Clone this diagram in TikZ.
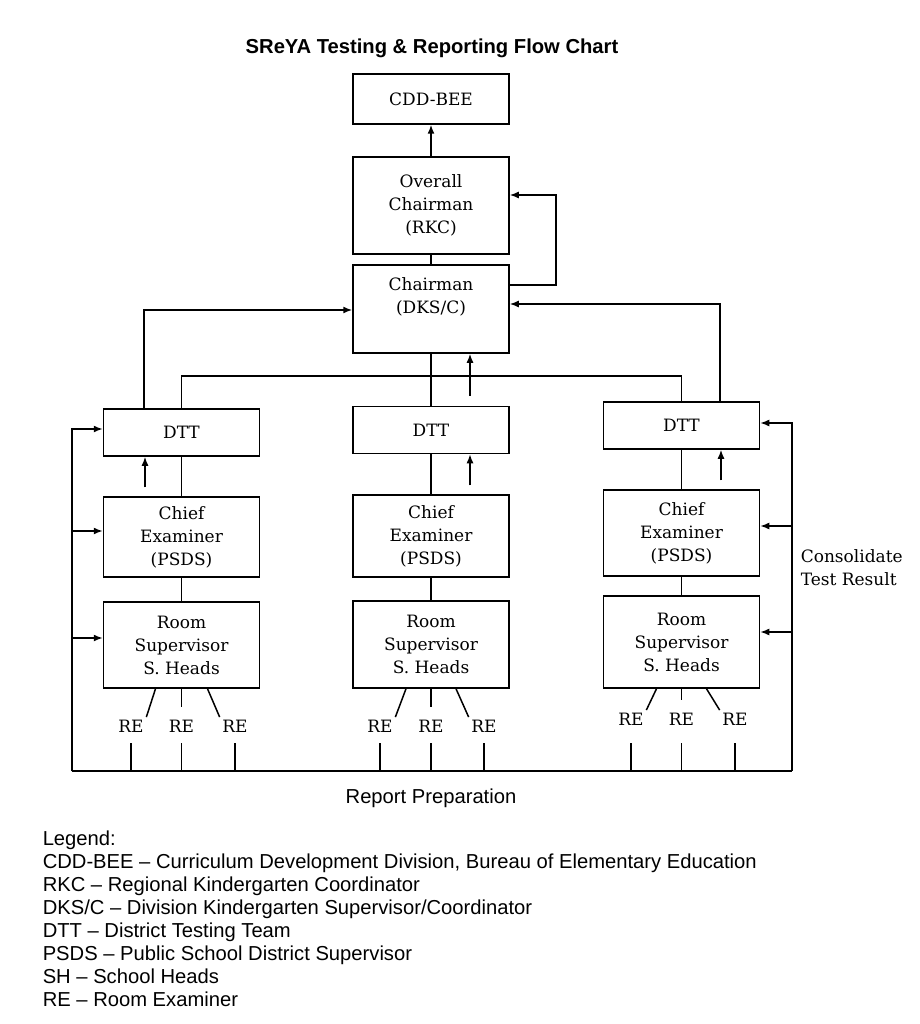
\documentclass[tikz,border=0pt]{standalone}
\usepackage{fontspec}
\newfontfamily\headfont{Liberation Sans}
\newfontfamily\chartfont{DejaVu Serif}
\usetikzlibrary{arrows.meta}

\newcommand{\boxfont}{\chartfont\fontsize{17}{23}\selectfont}
\newcommand{\sansfont}{\headfont\fontsize{20.2}{23}\selectfont}

\tikzset{
  box/.style={draw, minimum width=156pt, align=center, inner sep=0pt, font=\boxfont},
  arr/.style={-{Latex[length=9pt,width=7pt]}},
  re/.style={inner sep=2pt, font=\boxfont},
}

\begin{document}
\begin{tikzpicture}[x=1pt, y=-1pt, line width=1.5pt]
  \useasboundingbox (0,0) rectangle (919,1024);

  \node[font=\headfont\bfseries\fontsize{20.2}{24}\selectfont] (title) at (432,48) {SReYA Testing \& Reporting Flow Chart};

  % top of the chart
  \node[box, minimum height=50pt] (cdd) at (431,99) {CDD-BEE};
  \node[box, minimum height=97pt] (rkc) at (431,205.5) {Overall\\Chairman\\(RKC)};
  \node[box, minimum height=88pt] (dks) at (431,309) {};
  \node[font=\boxfont, align=center] (dkstext) at (431,297) {Chairman\\(DKS/C)};

  % three columns
  \node[box, minimum height=47pt] (dtta) at (181.5,432.5) {DTT};
  \node[box, minimum height=47pt] (dttb) at (431,430) {DTT};
  \node[box, minimum height=47pt] (dttc) at (681.5,425.5) {DTT};

  \node[box, minimum height=80pt] (chiefa) at (181.5,537) {Chief\\Examiner\\(PSDS)};
  \node[box, minimum height=82pt] (chiefb) at (431,536) {Chief\\Examiner\\(PSDS)};
  \node[box, minimum height=86pt] (chiefc) at (681.5,533) {Chief\\Examiner\\(PSDS)};

  \node[box, minimum height=86pt] (rooma) at (181.5,645) {Room\\Supervisor\\S. Heads};
  \node[box, minimum height=87pt] (roomb) at (431,644.5) {Room\\Supervisor\\S. Heads};
  \node[box, minimum height=92pt] (roomc) at (681.5,642) {Room\\Supervisor\\S. Heads};

  % room examiners
  \node[re] (rea1) at (131,726) {RE};
  \node[re] (rea2) at (181.5,726) {RE};
  \node[re] (rea3) at (235,726) {RE};
  \node[re] (reb1) at (380,726) {RE};
  \node[re] (reb2) at (431,726) {RE};
  \node[re] (reb3) at (484,726) {RE};
  \node[re] (rec1) at (631,719) {RE};
  \node[re] (rec2) at (681.5,719) {RE};
  \node[re] (rec3) at (735,719) {RE};

  \coordinate (busl) at (72,771);
  \coordinate (busr) at (792,771);
  \coordinate (rebase) at (0,743);
  \coordinate (dtbus) at (0,376);

  % upward flow
  \draw[arr] (rkc) -- (cdd);
  \draw (rkc) -- (dks);
  \draw[arr] ([yshift=24pt]dks.east) -- ++(46,0) |- ([yshift=10.5pt]rkc.east);
  \draw[arr] ([xshift=38.5pt]dttc.north) |- ([yshift=5pt]dks.east);
  \draw[arr] ([xshift=-37.5pt]dtta.north) |- ([yshift=-1pt]dks.west);
  \draw (dtta.north) |- (dtbus -| dttc.north) -- (dttc.north);
  \draw (dks) -- (dttb);
  \draw[arr] ([xshift=39pt,yshift=10pt]dttb.north) -- ([xshift=39pt]dks.south);

  \draw (dtta) -- (chiefa);
  \draw (dttb) -- (chiefb);
  \draw (dttc) -- (chiefc);
  \draw (chiefa) -- (rooma);
  \draw (chiefb) -- (roomb);
  \draw (chiefc) -- (roomc);
  \draw[arr] ([xshift=-36.5pt,yshift=9pt]chiefa.north) -- ([xshift=-36.5pt]dtta.south);
  \draw[arr] ([xshift=39pt,yshift=9pt]chiefb.north) -- ([xshift=39pt]dttb.south);
  \draw[arr] ([xshift=39.5pt,yshift=9pt]chiefc.north) -- ([xshift=39.5pt]dttc.south);

  % rooms to examiners
  \draw ([xshift=-26pt]rooma.south) -- (rea1.north east);
  \draw[shorten >=10pt] (rooma.south) -- (rea2.north);
  \draw ([xshift=26pt]rooma.south) -- (rea3.north west);
  \draw ([xshift=-25pt]roomb.south) -- (reb1.north east);
  \draw[shorten >=10pt] (roomb.south) -- (reb2.north);
  \draw ([xshift=25pt]roomb.south) -- (reb3.north west);
  \draw ([xshift=-25pt]roomc.south) -- (rec1.north east);
  \draw[shorten >=10pt] (roomc.south) -- (rec2.north);
  \draw ([xshift=25pt]roomc.south) -- (rec3.north west);

  \foreach \r in {rea1,rea2,rea3,reb1,reb2,reb3,rec1,rec2,rec3}
    \draw (\r |- rebase) -- (\r |- busl);

  % report preparation loop
  \draw (busl) -- (busr);
  \draw[arr] (busl) |- ([yshift=3.5pt]dtta.west);
  \draw[arr] (busl) |- ([yshift=6pt]chiefa.west);
  \draw[arr] (busl) |- ([yshift=7pt]rooma.west);
  \draw[arr] (busr) |- ([yshift=2.5pt]dttc.east);
  \draw[arr] (busr) |- ([yshift=7pt]chiefc.east);
  \draw[arr] (busr) |- ([yshift=10pt]roomc.east);

  \node[font=\boxfont, align=left, anchor=west, inner sep=0pt] (consol) at (800,568) {Consolidate\\Test Result};
  \node[font=\sansfont] (report) at (431,798) {Report Preparation};

  \node[anchor=north west, align=left, inner sep=0pt, font=\sansfont] (legend) at (42,830) {Legend:\\
    CDD-BEE – Curriculum Development Division, Bureau of Elementary Education\\
    RKC – Regional Kindergarten Coordinator\\
    DKS/C – Division Kindergarten Supervisor/Coordinator\\
    DTT – District Testing Team\\
    PSDS – Public School District Supervisor\\
    SH – School Heads\\
    RE – Room Examiner};
\end{tikzpicture}
\end{document}
